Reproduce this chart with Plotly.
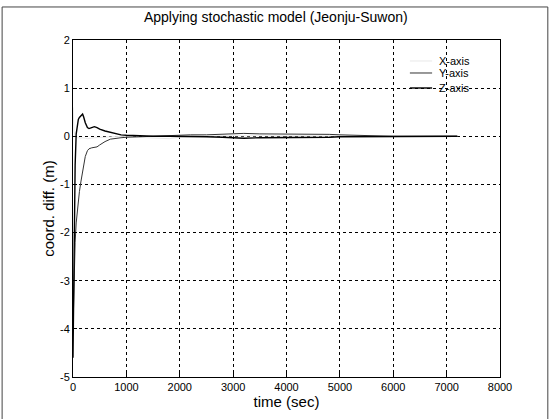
import plotly.graph_objects as go

# ---- data ----
time_sec = [0, 20, 40, 60, 80, 100, 120, 150, 180, 200, 230, 270, 300, 350, 400, 450,
            500, 600, 700, 800, 900, 1000, 1200, 1500, 1800, 2000, 2200, 2500, 2800,
            3000, 3200, 3500, 4000, 4500, 4800, 5000, 5300, 5600, 6000, 6500, 7000, 7200]

x_axis = [0.6, 0.1, 0.0, -0.02, -0.03, -0.03, -0.04, -0.04, -0.03, -0.03, -0.04, -0.05,
          -0.05, -0.04, -0.03, -0.03, -0.02, -0.02, -0.01, -0.01, -0.01, 0.0, -0.02, -0.04,
          -0.05, -0.02, -0.01, 0.0, 0.01, 0.01, 0.01, 0.01, 0.0, 0.0, 0.0, 0.0, 0.0, 0.0,
          0.0, 0.0, 0.0, 0.0]

y_axis = [-4.0, -2.9, -2.2, -1.8, -1.55, -1.3, -1.15, -0.93, -0.7, -0.55, -0.42, -0.3,
          -0.26, -0.24, -0.23, -0.22, -0.18, -0.11, -0.06, -0.04, -0.03, -0.02, -0.01, 0.0,
          0.01, 0.02, 0.03, 0.03, 0.04, 0.05, 0.06, 0.05, 0.05, 0.04, 0.04, 0.03, 0.02,
          0.01, 0.0, 0.0, 0.0, 0.0]

z_axis = [-4.6, -2.5, -0.6, 0.05, 0.25, 0.35, 0.39, 0.42, 0.46, 0.40, 0.28, 0.18, 0.16,
          0.18, 0.20, 0.18, 0.15, 0.11, 0.08, 0.05, 0.03, 0.02, 0.01, 0.0, 0.0, 0.0, 0.0,
          -0.01, -0.02, -0.03, -0.04, -0.03, -0.03, -0.03, -0.02, -0.01, -0.01, -0.01, 0.0,
          0.0, 0.0, 0.0]

series_names = ["X-axis", "Y-axis", "Z-axis"]
series_colors = ["#e8e8e8", "#333333", "#000000"]
series_widths = [1, 1, 1.4]
x_ticks = [0, 1000, 2000, 3000, 4000, 5000, 6000, 7000, 8000]
y_ticks = [-5, -4, -3, -2, -1, 0, 1, 2]

FONT = "Liberation Sans, Arial, sans-serif"

fig = go.Figure()
for name, vals, col, w in zip(series_names, [x_axis, y_axis, z_axis], series_colors, series_widths):
    fig.add_trace(go.Scatter(x=time_sec, y=vals, mode="lines", name=name,
                             line=dict(color=col, width=w), showlegend=False))

axis_common = dict(
    showline=True, linecolor="black", linewidth=1, mirror=True,
    ticks="inside", ticklen=4, tickcolor="black",
    showgrid=True, gridcolor="black", gridwidth=1, griddash="dot",
    zeroline=False, automargin=False,
    tickfont=dict(family=FONT, size=11, color="black"),
)

fig.update_xaxes(range=[0, 8000], tickvals=x_ticks, ticktext=[str(v) for v in x_ticks],
                 title=dict(text="time (sec)", font=dict(family=FONT, size=15, color="black"),
                            standoff=0),
                 **axis_common)
fig.update_yaxes(range=[-5, 2], tickvals=y_ticks, ticktext=[str(v) for v in y_ticks],
                 title=dict(text="coord. diff. (m)", font=dict(family=FONT, size=15, color="black"),
                            standoff=1),
                 **axis_common)

# legend drawn as line samples + labels (MATLAB style, no box)
legend_rows_y = [0.9377, 0.9021, 0.8576]
shapes = [dict(type="rect", xref="paper", yref="paper",
               x0=-0.166, x1=1.112, y0=-0.2, y1=1.098,
               line=dict(color="#444444", width=1), layer="above")]
annotations = []
for name, col, w, yy in zip(series_names, series_colors, series_widths, legend_rows_y):
    shapes.append(dict(type="line", xref="paper", yref="paper", x0=0.789, x1=0.841,
                       y0=yy, y1=yy, line=dict(color=col, width=w)))
    annotations.append(dict(text=name, xref="paper", yref="paper", x=0.852, y=yy,
                            xanchor="left", yanchor="middle", showarrow=False,
                            font=dict(family=FONT, size=11, color="black")))

fig.update_layout(
    width=551, height=419,
    margin=dict(l=73, r=51, t=40, b=42),
    paper_bgcolor="white", plot_bgcolor="white",
    title=dict(text="Applying stochastic model (Jeonju-Suwon)", x=0.475, xref="paper",
               xanchor="center", y=0.96, yanchor="middle",
               font=dict(family=FONT, size=14, color="black")),
    showlegend=False,
    shapes=shapes,
    annotations=annotations,
)

fig.write_html("out.html", config={"displayModeBar": False},
               post_script="document.body.style.margin='0px';")
